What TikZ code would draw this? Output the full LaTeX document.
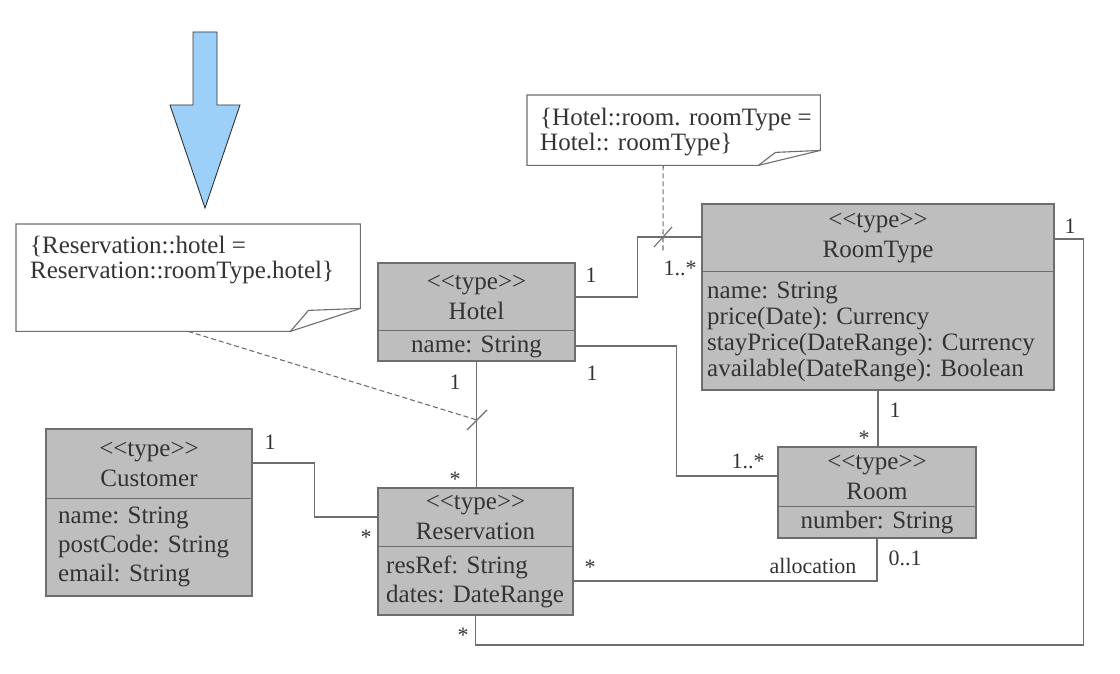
\documentclass[tikz,border=0pt]{standalone}
\usepackage{fontspec}
\setmainfont{Liberation Serif}
\usetikzlibrary{positioning}
\definecolor{typefill}{HTML}{BEBEBE}
\definecolor{inkgray}{HTML}{333333}
\definecolor{linkgray}{HTML}{6E6E6E}
\definecolor{arrowblue}{HTML}{9DD0F8}
\newcommand{\stereo}{<\kern0pt<type>\kern0pt>}
\tikzset{
  typebox/.style={draw=linkgray, fill=typefill, line width=1.2pt, inner sep=0pt},
  typehead/.style={text=inkgray, align=center, inner sep=0pt,
                   font=\fontsize{25}{30}\selectfont},
  typeattr/.style={text=inkgray, align=left, inner sep=0pt,
                   font=\fontsize{25}{29}\selectfont},
  assoc/.style={draw=linkgray, line width=1.1pt},
  constraint/.style={assoc, dash pattern=on 5pt off 3pt},
  mult/.style={text=inkgray, inner sep=0pt, font=\fontsize{22}{24}\selectfont},
  notetext/.style={text=inkgray, align=left, inner sep=0pt,
                   font=\fontsize{25}{25}\selectfont},
}

\begin{document}
\begin{tikzpicture}[x=1pt, y=-1pt]
    \useasboundingbox (0,0) rectangle (1120,674);

    % pointer arrow
    \draw[fill=arrowblue, draw=black!80, line width=0.9pt]
        (193,32) -- (217,32) -- (217,105) -- (240,105) -- (205,208)
        -- (170,105) -- (193,105) -- cycle;

    % types
    \node[typebox, minimum width=197pt, minimum height=98pt]  (hotel)       at (476.5,312)  {};
    \node[typebox, minimum width=352pt, minimum height=186pt] (roomtype)    at (878,297)    {};
    \node[typebox, minimum width=198pt, minimum height=91pt]  (room)        at (877,492.5)  {};
    \node[typebox, minimum width=195pt, minimum height=127pt] (reservation) at (475.5,551.5) {};
    \node[typebox, minimum width=206pt, minimum height=167pt] (customer)    at (149,512.5)  {};

    \draw[assoc] ([yshift=-68pt]hotel.north west)       -- ([yshift=-68pt]hotel.north east);
    \draw[assoc] ([yshift=-68pt]roomtype.north west)    -- ([yshift=-68pt]roomtype.north east);
    \draw[assoc] ([yshift=-60pt]room.north west)        -- ([yshift=-60pt]room.north east);
    \draw[assoc] ([yshift=-59pt]reservation.north west) -- ([yshift=-59pt]reservation.north east);
    \draw[assoc] ([yshift=-70pt]customer.north west)    -- ([yshift=-70pt]customer.north east);

    \node[typehead] (hotelhead)       at ([yshift=-35pt]hotel.north)       {\stereo\\Hotel};
    \node[typehead] (hotelattr)       at ([yshift=15pt]hotel.south)        {name: String};
    \node[typehead] (roomtypehead)    at ([yshift=-35pt]roomtype.north)    {\stereo\\RoomType};
    \node[typeattr, anchor=west, font=\fontsize{25}{26}\selectfont]
                    (roomtypeattr)    at (707,332)
        {name: String\\price(Date): Currency\\stayPrice(DateRange): Currency\\available(DateRange): Boolean};
    \node[typehead] (roomhead)        at ([yshift=-31pt]room.north)        {\stereo\\Room};
    \node[typehead] (roomattr)        at ([yshift=16pt]room.south)         {number: String};
    \node[typehead] (reservationhead) at ([yshift=-30pt]reservation.north) {\stereo\\Reservation};
    \node[typeattr, anchor=west] (reservationattr) at (386,582) {resRef: String\\dates: DateRange};
    \node[typehead] (customerhead)    at ([yshift=-36pt]customer.north)    {\stereo\\Customer};
    \node[typeattr, anchor=west] (customerattr) at (58,547) {name: String\\postCode: String\\email: String};

    % constraint notes
    \node[minimum width=344pt, minimum height=107pt, inner sep=0pt, anchor=north west] (note1) at (16,224) {};
    \draw[assoc, fill=white] (note1.north west) -- (note1.north east) -- ([yshift=23pt]note1.south east)
        -- ([xshift=-70pt]note1.south east) -- (note1.south west) -- cycle;
    \draw[assoc] ([xshift=-70pt]note1.south east) -- ++(18,-21) -- ([yshift=23pt]note1.south east);
    \node[notetext, anchor=north west] (note1text) at (30,236)
        {\{Reservation::hotel =\\Reservation::roomType.hotel\}};

    \node[minimum width=293pt, minimum height=70pt, inner sep=0pt, anchor=north west] (note2) at (527,95) {};
    \draw[assoc, fill=white] (note2.north west) -- (note2.north east) -- ([yshift=15pt]note2.south east)
        -- ([xshift=-62pt]note2.south east) -- (note2.south west) -- cycle;
    \draw[assoc] ([xshift=-62pt]note2.south east) -- ++(17,-13) -- ([yshift=15pt]note2.south east);
    \node[notetext, anchor=north west] (note2text) at (540,108)
        {\{Hotel::room. roomType =\\Hotel:: roomType\}};

    % associations
    \draw[assoc] ([yshift=15pt]hotel.east) -- ++(62,0) |- ([yshift=60pt]roomtype.west);
    \draw[assoc] ([yshift=-34pt]hotel.east) -- ++(101,0) |- ([yshift=16.5pt]room.west);
    \draw[assoc] (hotel.south) -- (hotel.south |- reservation.north);
    \draw[assoc] (roomtype.south) -- (roomtype.south |- room.north);
    \draw[assoc] (room.south) |- ([yshift=-29.5pt]reservation.east);
    \draw[assoc] ([yshift=58pt]roomtype.east) -- ++(29,0) -- ++(0,406) -| (reservation.south);
    \draw[assoc] ([yshift=49.5pt]customer.east) -- ++(62,0) |- ([yshift=34.5pt]reservation.west);

    % constraint ticks
    \coordinate (tick1) at (477,420);
    \coordinate (tick2) at (663,237);
    \draw[assoc] ([shift={(-10,10)}]tick1) -- ([shift={(10,-10)}]tick1);
    \draw[assoc] ([shift={(-9,10)}]tick2) -- ([shift={(9,-10)}]tick2);
    \draw[constraint] (note1.south) -- (tick1);
    \draw[constraint] ([xshift=-10.5pt]note2.south) -- ([yshift=-14pt]tick2);

    % multiplicities
    \node[mult] (m1) at (591,275) {1};
    \node[mult] (m2) at (680,268) {1..*};
    \node[mult] (m3) at (1070,226) {1};
    \node[mult] (m4) at (895,410) {1};
    \node[mult] (m5) at (864,438) {*};
    \node[mult] (m6) at (748,461) {1..*};
    \node[mult] (m7) at (592,373) {1};
    \node[mult] (m8) at (455,382) {1};
    \node[mult] (m9) at (455,479) {*};
    \node[mult] (m10) at (366,537) {*};
    \node[mult] (m11) at (590,567) {*};
    \node[mult] (m12) at (463,635) {*};
    \node[mult] (m13) at (270,442) {1};
    \node[mult] (m14) at (905,558) {0..1};
    \node[mult] (alloc) at (813,566) {allocation};
\end{tikzpicture}
\end{document}
